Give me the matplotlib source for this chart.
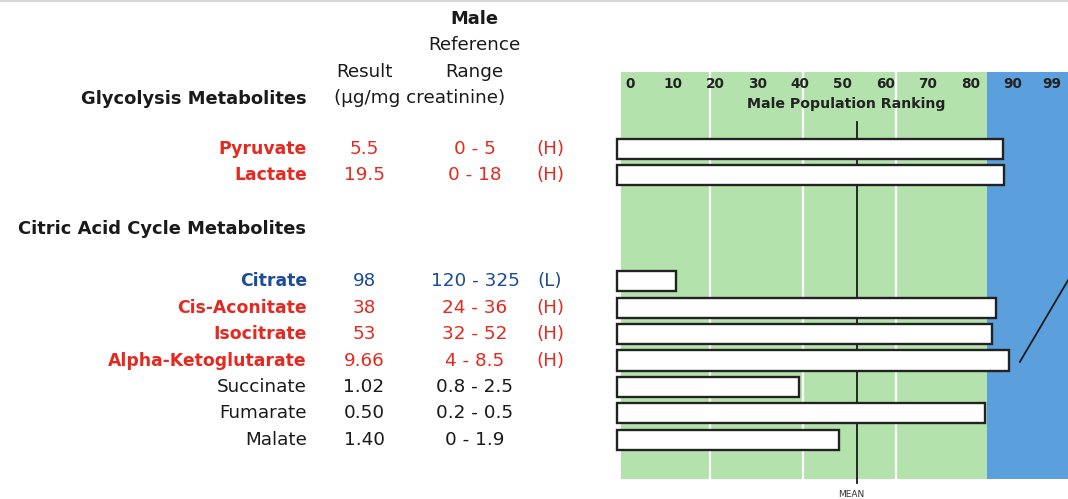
import matplotlib
matplotlib.use("Agg")
import matplotlib.pyplot as plt
import matplotlib.transforms as mtransforms

# ---------------- data ----------------
metabolites = ["Pyruvate", "Lactate", "Citrate", "Cis-Aconitate", "Isocitrate",
               "Alpha-Ketoglutarate", "Succinate", "Fumarate", "Malate"]
rows = [0, 1, 5, 6, 7, 8, 9, 10, 11]
results = ["5.5", "19.5", "98", "38", "53", "9.66", "1.02", "0.50", "1.40"]
ref_ranges = ["0 - 5", "0 - 18", "120 - 325", "24 - 36", "32 - 52", "4 - 8.5",
              "0.8 - 2.5", "0.2 - 0.5", "0 - 1.9"]
flags = ["(H)", "(H)", "(L)", "(H)", "(H)", "(H)", "", "", ""]
ranking = [87.6, 87.8, 10.8, 86.0, 85.0, 89.0, 39.6, 83.4, 49.2]
tick_labels = ["0", "10", "20", "30", "40", "50", "60", "70", "80", "90", "99"]
tick_values = [0, 10, 20, 30, 40, 50, 60, 70, 80, 90, 99]
mean_rank = 53.3
sections = [("Glycolysis Metabolites", -1.89), ("Citric Acid Cycle Metabolites", 3.02)]

# ---------------- style ----------------
RED = "#e42a20"
BLUE = "#1d4b96"
BLACK = "#1a1a1a"
GREEN_BG = "#b4e2ad"
BLUE_BG = "#5b9fdc"
FONT = ["DejaVu Sans"]
plt.rcParams["font.family"] = FONT

W, H = 1068, 499
fig = plt.figure(figsize=(W / 100, H / 100), dpi=100)
fig.patch.set_facecolor("white")

# top grey strip
fig.add_artist(plt.Rectangle((0, 1 - 2 / H), 1, 2 / H, transform=fig.transFigure,
                             color="#d6d6d6", lw=0))

x0, x1, y0, y1 = 621, 1068, 72, 479
ax = fig.add_axes([x0 / W, 1 - y1 / H, (x1 - x0) / W, (y1 - y0) / H])
ax.set_xlim(-2.1, 102.9)
ax.set_ylim(12.48, -2.91)
ax.axis("off")

# background bands
ax.axvspan(-2.1, 83.9, color=GREEN_BG, lw=0, zorder=0)
ax.axvspan(83.9, 102.9, color=BLUE_BG, lw=0, zorder=0)
for xv in (18.8, 40.6, 62.5):
    ax.axvline(xv, color="white", lw=1.6, zorder=1)

# mean line
ax.plot([mean_rank, mean_rank], [-1.02, 12.63], color=BLACK, lw=1.3, zorder=2,
        clip_on=False)
ax.text(mean_rank - 1.2, 13.05, "MEAN", ha="center", va="center", fontsize=6.5,
        color="#333333", clip_on=False)

# bars
bar_left = -3.0
ax.barh(rows, [r - bar_left for r in ranking], left=bar_left, height=0.76,
        color="white", edgecolor="#222222", linewidth=1.7, zorder=3, clip_on=False)

# tick labels and title
for tv, tl in zip(tick_values, tick_labels):
    ax.text(tv, -2.46, tl, ha="center", va="center", fontsize=9.8,
            fontweight="bold", color="#222222")
ax.text(50.75, -1.70, "Male Population Ranking", ha="center", va="center",
        fontsize=10.2, fontweight="bold", color="#222222")

# diagonal line in blue area
ax.plot([91.6, 105.7], [8.05, 4.2], color=BLACK, lw=1.3, zorder=2)

# ---------------- left table ----------------
tr = mtransforms.blended_transform_factory(fig.transFigure, ax.transData)
FS_B = 12.4   # bold names
FS_R = 13.2   # regular text
FS_H = 12.9   # bold section headers

def fx(px):
    return px / W

for name, row, res, rr, fl in zip(metabolites, rows, results, ref_ranges, flags):
    if fl == "(H)":
        col, wt, fsn = RED, "bold", FS_B
    elif fl == "(L)":
        col, wt, fsn = BLUE, "bold", FS_B
    else:
        col, wt, fsn = BLACK, "normal", FS_R
    ax.text(fx(307), row, name, transform=tr, ha="right", va="center",
            fontsize=fsn, fontweight=wt, color=col)
    ax.text(fx(364), row, res, transform=tr, ha="center", va="center",
            fontsize=FS_R, color=col)
    ax.text(fx(475), row, rr, transform=tr, ha="center", va="center",
            fontsize=FS_R, color=col)
    if fl:
        ax.text(fx(550), row, fl, transform=tr, ha="center", va="center",
                fontsize=FS_R, color=col)

ax.text(fx(307), sections[0][1], sections[0][0], transform=tr, ha="right",
        va="center", fontsize=FS_H, fontweight="bold", color=BLACK)
ax.text(fx(18), sections[1][1], sections[1][0], transform=tr, ha="left",
        va="center", fontsize=FS_H, fontweight="bold", color=BLACK)

# column headers
ax.text(fx(474), -4.91, "Male", transform=tr, ha="center", va="center",
        fontsize=FS_H, fontweight="bold", color=BLACK)
ax.text(fx(474), -3.93, "Reference", transform=tr, ha="center", va="center",
        fontsize=FS_R, color=BLACK)
ax.text(fx(364), -2.91, "Result", transform=tr, ha="center", va="center",
        fontsize=FS_R, color=BLACK)
ax.text(fx(474), -2.91, "Range", transform=tr, ha="center", va="center",
        fontsize=FS_R, color=BLACK)
ax.text(fx(420), -1.93, "(\u00b5g/mg creatinine)", transform=tr, ha="center",
        va="center", fontsize=FS_R, color=BLACK)

fig.savefig("out.png", dpi=100, facecolor="white")
